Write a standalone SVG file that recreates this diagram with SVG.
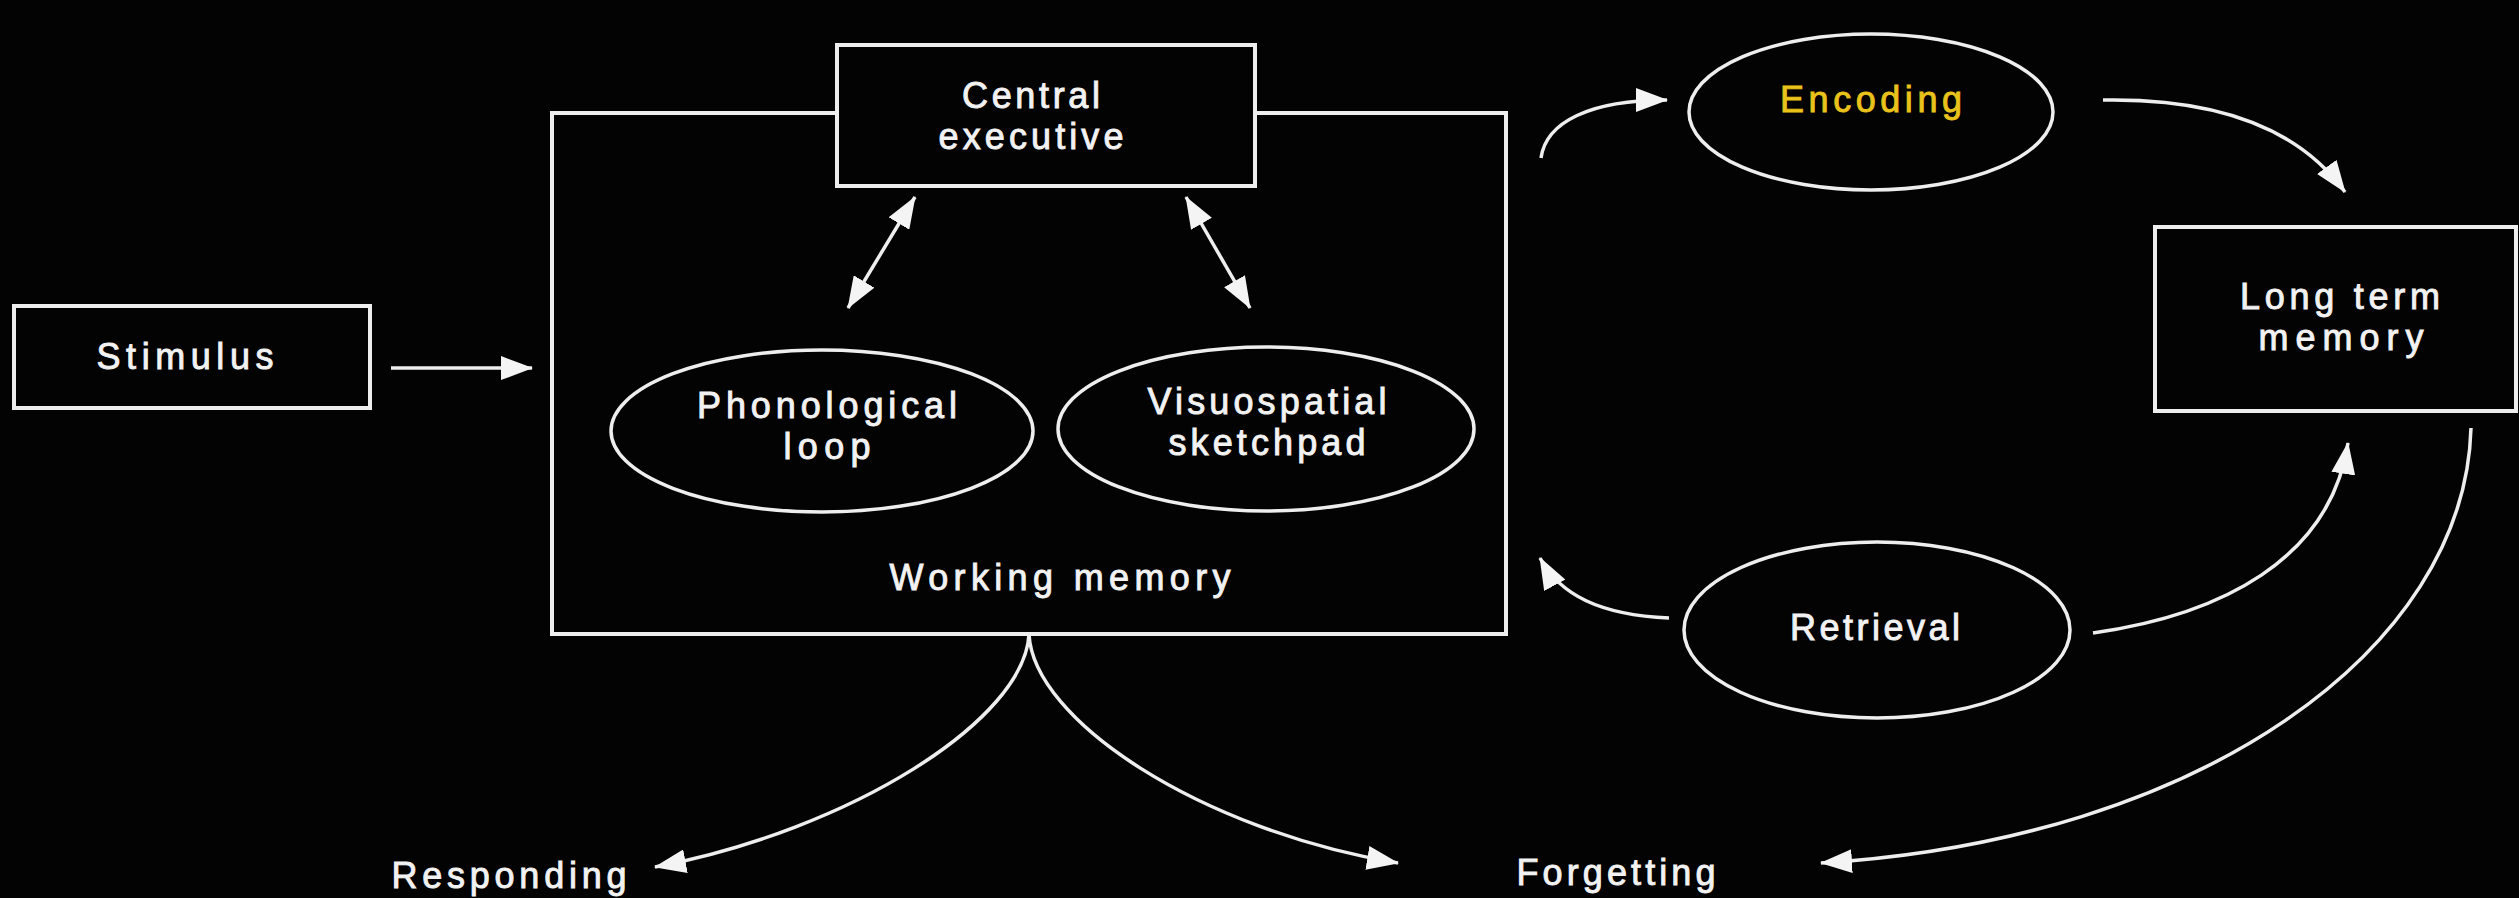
<svg xmlns="http://www.w3.org/2000/svg" width="2519" height="898" viewBox="0 0 2519 898">
<style>
.box{fill:none;stroke:#eeeeee;stroke-width:4}
.ell{fill:none;stroke:#eeeeee;stroke-width:3.5}
.lbl{font-family:"Liberation Sans",Arial,sans-serif;font-size:36px;fill:#f2f2f2;stroke:#f2f2f2;stroke-width:0.9;text-anchor:middle}
.yel{fill:#e9c21c;stroke:#e9c21c}
.con{fill:none;stroke:#eeeeee;stroke-width:3.5}
</style>
<defs>
<marker id="ah" viewBox="0 0 32 24" refX="31" refY="12" markerWidth="32" markerHeight="24" markerUnits="userSpaceOnUse" orient="auto-start-reverse">
<path d="M0,0 L32,12 L0,24 z" fill="#f4f4f4"/>
</marker>
</defs>
<rect x="0" y="0" width="2519" height="898" fill="#030303"/>

<g id="stimulus">
<rect class="box" x="14" y="306" width="356" height="102"/>
<text class="lbl" x="185" y="369" textLength="177" lengthAdjust="spacing">Stimulus</text>
</g>

<g id="working-memory">
<path class="box" d="M837,113 L552,113 L552,634 L1506,634 L1506,113 L1255,113"/>
<text class="lbl" x="1060" y="590" textLength="341" lengthAdjust="spacing">Working memory</text>
</g>

<g id="central-executive">
<rect class="box" x="837" y="45" width="418" height="141"/>
<text class="lbl" x="1031" y="108" textLength="138" lengthAdjust="spacing">Central</text>
<text class="lbl" x="1031" y="149" textLength="185" lengthAdjust="spacing">executive</text>
</g>

<g id="phonological-loop">
<ellipse class="ell" cx="822" cy="431" rx="211" ry="81"/>
<text class="lbl" x="827" y="418" textLength="260" lengthAdjust="spacing">Phonological</text>
<text class="lbl" x="827" y="459" textLength="87" lengthAdjust="spacing">loop</text>
</g>

<g id="visuospatial-sketchpad">
<ellipse class="ell" cx="1266" cy="429" rx="208" ry="82"/>
<text class="lbl" x="1267" y="414" textLength="239" lengthAdjust="spacing">Visuospatial</text>
<text class="lbl" x="1267" y="455" textLength="197" lengthAdjust="spacing">sketchpad</text>
</g>

<g id="encoding">
<ellipse class="ell" cx="1871" cy="112" rx="182" ry="78"/>
<text class="lbl yel" x="1871" y="112" textLength="182" lengthAdjust="spacing">Encoding</text>
</g>

<g id="long-term-memory">
<rect class="box" x="2155" y="227" width="361" height="184"/>
<text class="lbl" x="2340" y="309" textLength="200" lengthAdjust="spacing">Long term</text>
<text class="lbl" x="2341" y="350" textLength="165" lengthAdjust="spacing">memory</text>
</g>

<g id="retrieval">
<ellipse class="ell" cx="1877" cy="630" rx="193" ry="88"/>
<text class="lbl" x="1875" y="640" textLength="170" lengthAdjust="spacing">Retrieval</text>
</g>

<g id="responding">
<text class="lbl" x="509" y="888" textLength="235" lengthAdjust="spacing">Responding</text>
</g>

<g id="forgetting">
<text class="lbl" x="1616" y="885" textLength="199" lengthAdjust="spacing">Forgetting</text>
</g>

<g id="connectors">
<path class="con" d="M391,368 L532,368" marker-end="url(#ah)"/>
<path class="con" d="M915,197 L848,308" marker-start="url(#ah)" marker-end="url(#ah)"/>
<path class="con" d="M1186,197 L1250,308" marker-start="url(#ah)" marker-end="url(#ah)"/>
<path class="con" d="M1541,158 C1546,122 1590,100 1667,100" marker-end="url(#ah)"/>
<path class="con" d="M2103,100 C2220,98 2300,130 2345,192" marker-end="url(#ah)"/>
<path class="con" d="M1669,618 C1600,615 1560,595 1540,558" marker-end="url(#ah)"/>
<path class="con" d="M2093,633 C2220,615 2330,560 2348,443" marker-end="url(#ah)"/>
<path class="con" d="M2471,428 C2465,650 2200,840 1821,863" marker-end="url(#ah)"/>
<path class="con" d="M1029,634 C1025,720 850,830 655,867" marker-end="url(#ah)"/>
<path class="con" d="M1029,634 C1033,720 1200,830 1398,863" marker-end="url(#ah)"/>
</g>
</svg>
